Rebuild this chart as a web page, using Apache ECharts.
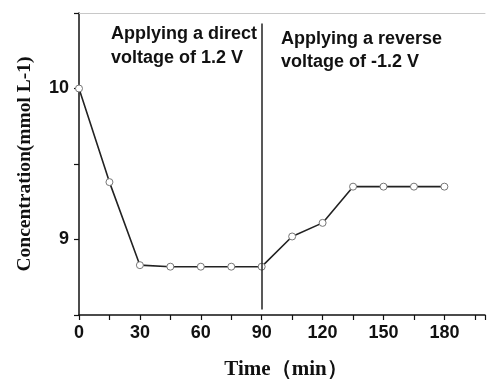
<!DOCTYPE html>
<html>
<head>
<meta charset="utf-8">
<script src="https://cdn.jsdelivr.net/npm/echarts@6/dist/echarts.min.js"></script>
<style>html,body{margin:0;padding:0;background:#fff}#c{width:488px;height:385px}</style>
</head>
<body>
<div id="c"></div>
<script>
const times = [0, 15, 30, 45, 60, 75, 90, 105, 120, 135, 150, 165, 180];
const concentration = [10.0, 9.38, 8.83, 8.82, 8.82, 8.82, 8.82, 9.02, 9.11, 9.35, 9.35, 9.35, 9.35];
const xTickLabels = [0, 30, 60, 90, 120, 150, 180];
const yTickLabels = [9, 10];
const dividerX = 90;
const dividerRange = [8.536, 10.43];
const xName = 'Time（min）';
const yName = 'Concentration(mmol L-1)';
const noteLeft = 'Applying a direct\nvoltage of 1.2 V';
const noteRight = 'Applying a reverse\nvoltage of -1.2 V';

const chart = echarts.init(document.getElementById('c'), null, {renderer: 'canvas'});
const sansBold = {fontFamily: 'Liberation Sans, Arial, sans-serif', fontWeight: 'bold', color: '#111'};
const serifBold = {fontFamily: 'Liberation Serif, Times New Roman, serif', fontWeight: 'bold', color: '#111'};

chart.setOption({
  animation: false,
  backgroundColor: '#fff',
  grid: {left: 79, top: 13, right: -4, bottom: 68, containLabel: false},
  xAxis: [{
    type: 'value', min: 0, max: 200, interval: 15, position: 'bottom',
    name: xName, nameLocation: 'middle', nameGap: 44,
    nameTextStyle: Object.assign({fontSize: 21, padding: [0, 0, 0, 8]}, serifBold),
    axisLine: {lineStyle: {color: '#111', width: 1.5}},
    axisTick: {inside: false, length: 5, lineStyle: {color: '#111', width: 1.2}},
    axisLabel: Object.assign({fontSize: 18, margin: 9,
      formatter: v => xTickLabels.includes(v) ? String(v) : ''}, sansBold),
    splitLine: {show: false}
  }, {
    type: 'value', min: 0, max: 200, position: 'top',
    axisLine: {show: true, lineStyle: {color: '#c8c8c8', width: 1}},
    axisTick: {show: false}, axisLabel: {show: false}, splitLine: {show: false}
  }],
  yAxis: {
    type: 'value', min: 8.5, max: 10.5, interval: 0.5,
    name: yName, nameLocation: 'middle', nameGap: 44, nameRotate: 90,
    nameTextStyle: Object.assign({fontSize: 19.5}, serifBold),
    axisLine: {show: true, lineStyle: {color: '#111', width: 1.5}},
    axisTick: {show: true, inside: false, length: 5, lineStyle: {color: '#111', width: 1.2}},
    axisLabel: Object.assign({fontSize: 18, margin: 10,
      formatter: v => yTickLabels.includes(v) ? String(v) : ''}, sansBold),
    splitLine: {show: false}
  },
  series: [{
    type: 'line',
    data: times.map((t, i) => [t, concentration[i]]),
    symbol: 'circle', symbolSize: 7,
    lineStyle: {color: '#222', width: 1.6},
    itemStyle: {color: '#fff', borderColor: '#777', borderWidth: 1},
    z: 3,
    markLine: {
      silent: true, symbol: 'none', label: {show: false}, z: 5,
      lineStyle: {color: '#222', width: 1.5, type: 'solid'},
      data: [[{coord: [dividerX, dividerRange[0]]}, {coord: [dividerX, dividerRange[1]]}]]
    }
  }],
  graphic: [
    {type: 'text', left: 111, top: 22, style: {text: noteLeft, fontSize: 18, fontWeight: 'bold', fontFamily: 'Liberation Sans, Arial, sans-serif', lineHeight: 24, fill: '#111'}},
    {type: 'text', left: 281, top: 28, style: {text: noteRight, fontSize: 18, fontWeight: 'bold', fontFamily: 'Liberation Sans, Arial, sans-serif', lineHeight: 23, fill: '#111'}}
  ]
});
</script>
</body>
</html>
